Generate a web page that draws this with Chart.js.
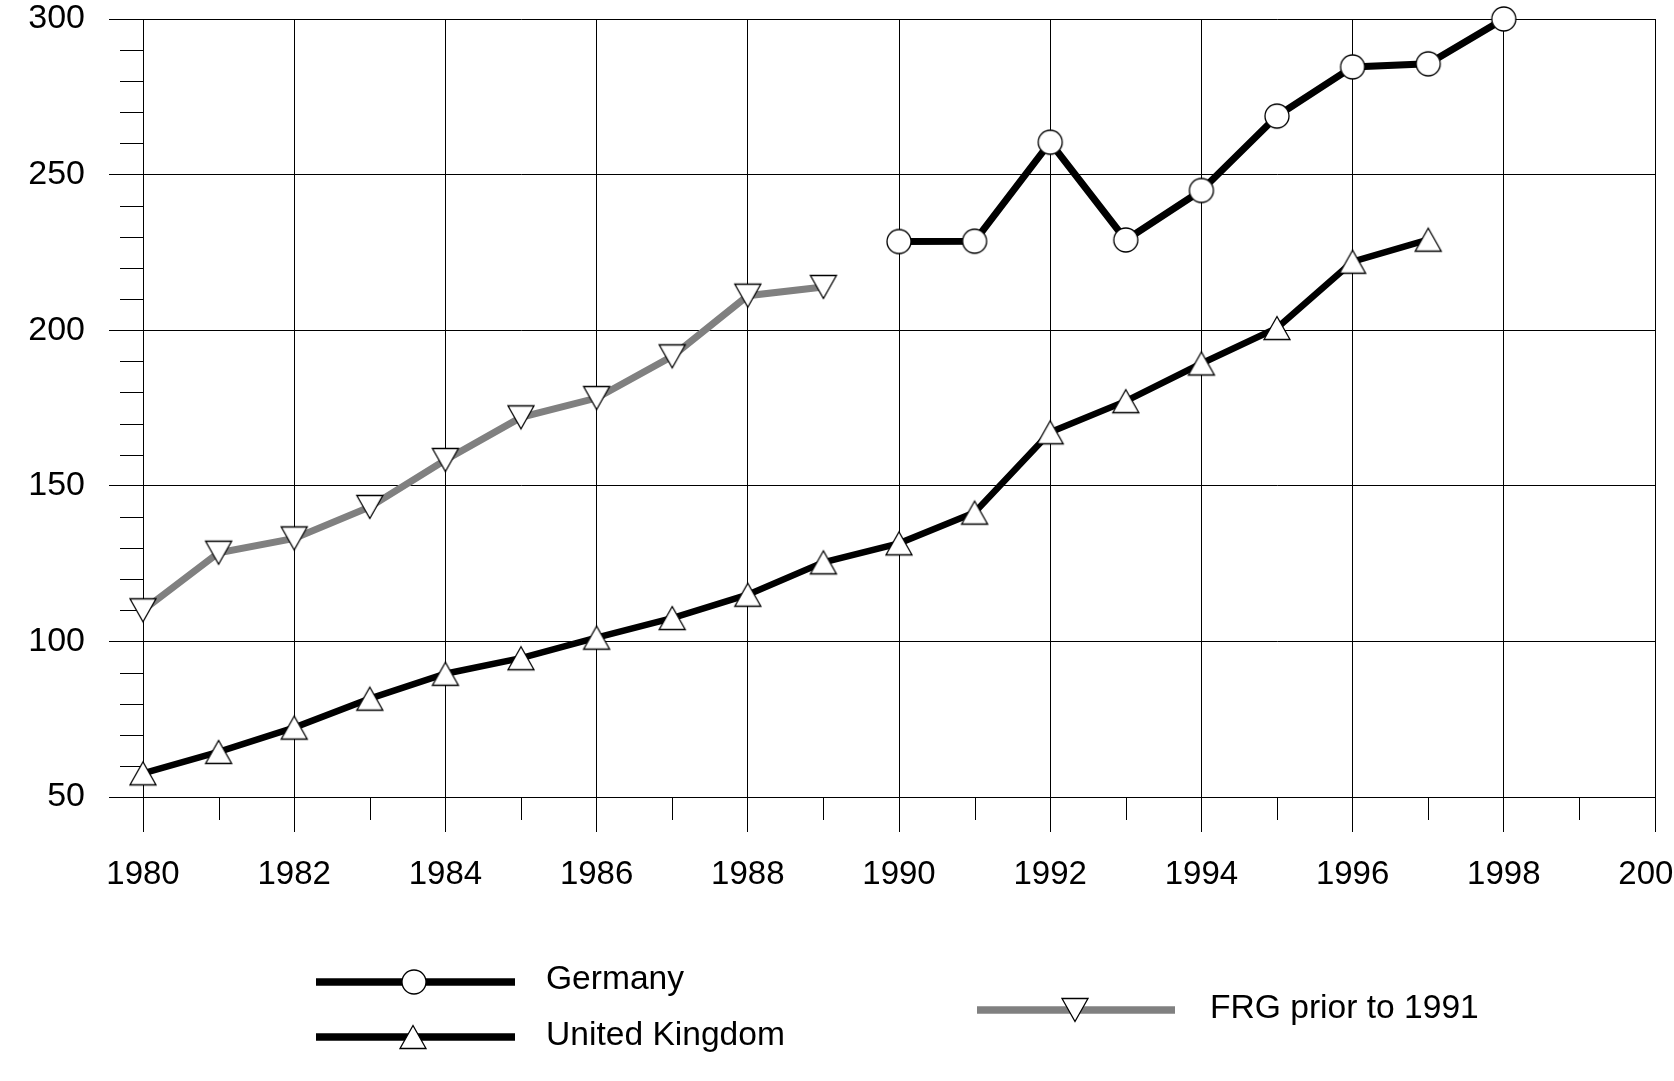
<!DOCTYPE html>
<html>
<head>
<meta charset="utf-8">
<script src="https://cdn.jsdelivr.net/npm/chart.js@4.4.1/dist/chart.umd.min.js"></script>
<style>
  html, body { margin: 0; padding: 0; background: #fff; overflow: hidden; }
  #wrap { position: absolute; left: 0; top: 0; width: 1720px; height: 1081px; }
</style>
</head>
<body>
<div id="wrap"><canvas id="chart"></canvas></div>
<script>
// data
const germanyYears = [1990, 1991, 1992, 1993, 1994, 1995, 1996, 1997, 1998];
const germanyValues = [228.5, 228.6, 260.4, 229, 244.9, 268.8, 284.6, 285.6, 300];

const ukYears = [1980, 1981, 1982, 1983, 1984, 1985, 1986, 1987, 1988, 1989,
                 1990, 1991, 1992, 1993, 1994, 1995, 1996, 1997];
const ukValues = [57.6, 64.5, 72.3, 81.6, 89.6, 94.6, 101.2, 107.5, 115, 125.4,
                  131.5, 141.4, 167.2, 177.2, 189.3, 200.7, 222, 229.1];

const frgYears = [1980, 1981, 1982, 1983, 1984, 1985, 1986, 1987, 1988, 1989];
const frgValues = [110, 128.5, 133.1, 143.2, 158.3, 172, 178.2, 191.6, 211.1, 213.9];

const xTicks = [1980, 1982, 1984, 1986, 1988, 1990, 1992, 1994, 1996, 1998, 2000];
const yTicks = [50, 100, 150, 200, 250, 300];

const FONT = '"Liberation Sans", Arial, Helvetica, sans-serif';
const GREY = '#808080';

// markers centred on their bounding box, like the original
function makeMarker(kind) {
    const c = document.createElement('canvas');
    c.width = 30; c.height = 30;
    const g = c.getContext('2d');
    g.fillStyle = '#fff';
    g.strokeStyle = '#000';
    g.lineWidth = 1.3;
    g.beginPath();
    if (kind === 'circle') {
        g.arc(15, 15, 12, 0, Math.PI * 2);
    } else if (kind === 'up') {
        g.moveTo(15, 3.5); g.lineTo(28, 26.5); g.lineTo(2, 26.5); g.closePath();
    } else {
        g.moveTo(2, 3.5); g.lineTo(28, 3.5); g.lineTo(15, 26.5); g.closePath();
    }
    g.fill();
    g.stroke();
    return c;
}
const circleMarker = makeMarker('circle');
const upMarker = makeMarker('up');
const downMarker = makeMarker('down');

function pts(years, vals) {
    return years.map((y, i) => ({ x: y, y: vals[i] }));
}

// minor ticks: every 10 on y, odd years on x
const minorTicks = {
    id: 'minorTicks',
    beforeDatasetsDraw(chart) {
        const ctx = chart.ctx;
        const xs = chart.scales.x, ys = chart.scales.y;
        ctx.save();
        ctx.strokeStyle = '#000';
        ctx.lineWidth = 1;
        ctx.beginPath();
        for (let v = 60; v < 300; v += 10) {
            if (v % 50 === 0) continue;
            const py = Math.round(ys.getPixelForValue(v)) + 0.5;
            ctx.moveTo(xs.left - 23, py);
            ctx.lineTo(xs.left, py);
        }
        for (let yr = 1981; yr < 2000; yr += 2) {
            const px = Math.round(xs.getPixelForValue(yr)) + 0.5;
            ctx.moveTo(px, ys.bottom);
            ctx.lineTo(px, ys.bottom + 23);
        }
        ctx.stroke();
        ctx.restore();
    }
};

// legend laid out as in the original
const customLegend = {
    id: 'customLegend',
    afterDraw(chart) {
        const ctx = chart.ctx;
        const items = [
            { ds: 0, x1: 316, x2: 515, y: 982, mx: 414, tx: 546, ty: 980 },
            { ds: 1, x1: 316, x2: 515, y: 1037, mx: 413, tx: 546, ty: 1036 },
            { ds: 2, x1: 977, x2: 1175, y: 1010, mx: 1075, tx: 1210, ty: 1009 }
        ];
        ctx.save();
        items.forEach(it => {
            const d = chart.data.datasets[it.ds];
            ctx.strokeStyle = d.borderColor;
            ctx.lineWidth = 7.5;
            ctx.beginPath();
            ctx.moveTo(it.x1, it.y);
            ctx.lineTo(it.x2, it.y);
            ctx.stroke();
            const m = d.pointStyle;
            ctx.drawImage(m, it.mx - m.width / 2, it.y - m.height / 2);
            ctx.fillStyle = '#000';
            ctx.font = '33.6px ' + FONT;
            ctx.textBaseline = 'middle';
            ctx.textAlign = 'left';
            ctx.fillText(d.label, it.tx, it.ty);
        });
        ctx.restore();
    }
};

const ctx = document.getElementById('chart').getContext('2d');
const chart = new Chart(ctx, {
    type: 'line',
    data: {
        datasets: [
            {
                label: 'Germany',
                data: pts(germanyYears, germanyValues),
                borderColor: '#000',
                borderWidth: 7,
                pointStyle: circleMarker,
                pointRadius: 12,
                clip: false
            },
            {
                label: 'United Kingdom',
                data: pts(ukYears, ukValues),
                borderColor: '#000',
                borderWidth: 6.5,
                pointStyle: upMarker,
                pointRadius: 12,
                clip: false
            },
            {
                label: 'FRG prior to 1991',
                data: pts(frgYears, frgValues),
                borderColor: GREY,
                borderWidth: 7,
                pointStyle: downMarker,
                pointRadius: 12,
                clip: false
            }
        ]
    },
    options: {
        responsive: true,
        maintainAspectRatio: false,
        animation: false,
        events: [],
        layout: { padding: { top: 0, right: 65, left: 0, bottom: 0 } },
        plugins: {
            legend: { display: false },
            tooltip: { enabled: false }
        },
        scales: {
            x: {
                type: 'linear',
                min: 1980,
                max: 2000,
                afterBuildTicks: s => { s.ticks = xTicks.map(v => ({ value: v })); },
                afterFit: s => { s.height = 1081 - 797; },
                ticks: {
                    color: '#000',
                    padding: 26,
                    maxRotation: 0,
                    font: { family: FONT, size: 33, lineHeight: 1 },
                    callback: v => String(v)
                },
                grid: { color: '#000', lineWidth: 1, tickLength: 35, tickColor: '#000' },
                border: { color: '#000', width: 1 }
            },
            y: {
                type: 'linear',
                min: 50,
                max: 300,
                afterBuildTicks: s => { s.ticks = yTicks.map(v => ({ value: v })); },
                afterFit: s => {
                    s.width = 143;
                    s.paddingTop = 19;
                    s.paddingBottom = 0;
                },
                ticks: {
                    color: '#000',
                    padding: 24,
                    font: { family: FONT, size: 34, lineHeight: 1 },
                    callback: v => String(v)
                },
                grid: { color: '#000', lineWidth: 1, tickLength: 34, tickColor: '#000' },
                border: { color: '#000', width: 1 }
            }
        }
    },
    plugins: [minorTicks, customLegend]
});
</script>
</body>
</html>
